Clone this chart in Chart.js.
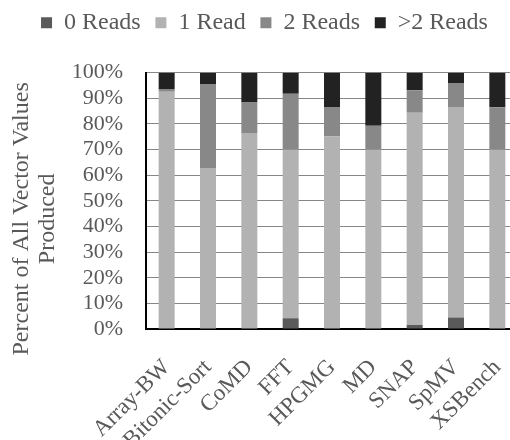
<!DOCTYPE html>
<html>
<head>
<meta charset="utf-8">
<script src="https://cdn.jsdelivr.net/npm/chart.js@4"></script>
<style>
  html, body { margin: 0; padding: 0; background: #fff; overflow: hidden; }
  #wrap { width: 529px; height: 440px; }
</style>
</head>
<body>
<div id="wrap"><canvas id="readsChart" width="529" height="440"></canvas></div>
<script>
const benchmarks = ["Array-BW", "Bitonic-Sort", "CoMD", "FFT", "HPGMG", "MD", "SNAP", "SpMV", "XSBench"]

const zeroReads = [0, 0, 0, 4.2, 0, 0, 1.6, 4.5, 0]
const oneRead = [92.6, 62.8, 76.5, 65.7, 75.1, 69.9, 82.8, 82.1, 69.9]
const twoReads = [1.0, 32.8, 11.9, 21.9, 11.5, 9.4, 8.8, 9.4, 16.6]
const moreReads = [6.4, 4.4, 11.6, 8.2, 13.4, 20.7, 6.8, 4.0, 13.5]

const yTicks = [0, 10, 20, 30, 40, 50, 60, 70, 80, 90, 100]

const textColor = "#595959"
const serif = "'Liberation Serif', 'Times New Roman', serif"
const nb = "\u00A0"

// extra room under the legend, like the original figure
const legendGap = {
    id: "legendGap",
    beforeInit(chart) {
        const origFit = chart.legend.fit
        chart.legend.fit = function () {
            origFit.call(this)
            this.height += 28
        }
    }
}

const ctx = document.getElementById("readsChart")

new Chart(ctx, {
    type: "bar",
    data: {
        labels: benchmarks,
        datasets: [
            { label: "0 Reads", data: zeroReads, backgroundColor: "#5a5a5a" },
            { label: "1 Read", data: oneRead, backgroundColor: "#b2b2b2" },
            { label: "2 Reads", data: twoReads, backgroundColor: "#888888" },
            { label: ">2 Reads", data: moreReads, backgroundColor: "#222222" }
        ]
    },
    options: {
        responsive: false,
        animation: false,
        layout: {
            padding: { left: 11, right: 11, top: -4, bottom: 0 }
        },
        datasets: {
            bar: {
                categoryPercentage: 1,
                barPercentage: 0.387,
                borderWidth: 0
            }
        },
        plugins: {
            tooltip: { enabled: false },
            legend: {
                position: "top",
                labels: {
                    boxWidth: 11,
                    boxHeight: 11,
                    padding: 14.7,
                    color: textColor,
                    font: { family: serif, size: 24 }
                }
            }
        },
        scales: {
            x: {
                stacked: true,
                grid: { display: false, drawTicks: false },
                border: { display: true, color: "#000", width: 2 },
                ticks: {
                    color: textColor,
                    font: { family: serif, size: 23 },
                    minRotation: 45,
                    maxRotation: 45,
                    autoSkip: false,
                    padding: 25
                },
                afterFit: axis => {
                    axis.height = 111
                    axis.paddingLeft = 0
                    axis.paddingRight = 0
                }
            },
            y: {
                stacked: true,
                min: 0,
                max: 100,
                afterBuildTicks: axis => {
                    axis.ticks = yTicks.map(v => ({ value: v }))
                },
                afterFit: axis => {
                    axis.width = 135
                },
                grid: { color: "#878787", lineWidth: 1, drawTicks: false },
                border: { display: true, color: "#000", width: 2 },
                ticks: {
                    color: textColor,
                    font: { family: serif, size: 22 },
                    padding: 23,
                    autoSkip: false,
                    callback: v => v + "%"
                },
                title: {
                    display: true,
                    text: ["Percent of All Vector Values" + nb.repeat(6), "Produced" + nb.repeat(6)],
                    color: textColor,
                    font: { family: serif, size: 24, lineHeight: 1.083 },
                    padding: { top: -2, bottom: 0 }
                }
            }
        }
    },
    plugins: [legendGap]
})
</script>
</body>
</html>
